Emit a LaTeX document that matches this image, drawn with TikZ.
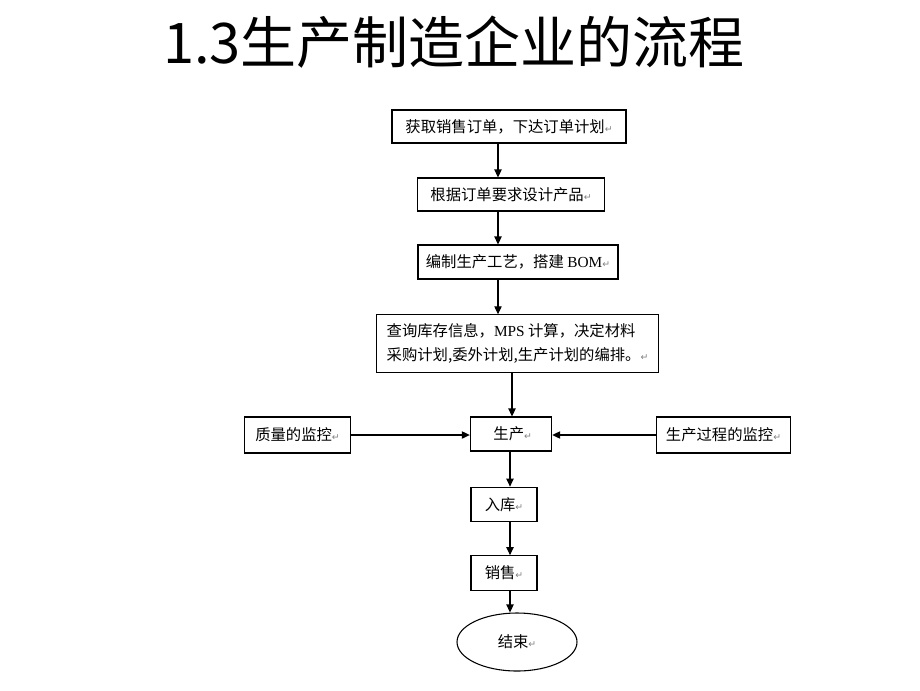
\documentclass[tikz,border=0pt]{standalone}
\usepackage{fontspec}
\setmainfont{Noto Sans CJK SC}
\newfontfamily\retfont{DejaVu Sans}
\newfontfamily\latinserif{Liberation Serif}
\usetikzlibrary{positioning, shapes.geometric, arrows.meta}
\newcommand{\ret}{{\retfont\fontsize{7}{7}\selectfont\color{gray}↵}}

\begin{document}
\begin{tikzpicture}[
    x=0.75pt, y=-0.75pt,
    box/.style={rectangle, draw, line width=0.8pt, inner sep=0pt, font=\fontsize{11.5}{17.5}\selectfont},
    arrow/.style={-{Triangle[length=6pt, width=5.5pt]}, line width=0.8pt},
    endbox/.style={ellipse, draw, line width=0.8pt, minimum width=90pt, minimum height=43.5pt, inner sep=0pt, font=\fontsize{11.5}{13}\selectfont}
]
\useasboundingbox (0,0) rectangle (920,690);

% Title
\node[font=\fontsize{42}{44}\selectfont] (title) at (454,42) {1.3生产制造企业的流程};

% Main flow, top to bottom
\node[box, minimum width=175.5pt, minimum height=24.75pt] (order) at (509,126.5) {获取销售订单，下达订单计划\ret};
\node[box, minimum width=140pt, minimum height=24.75pt] (design) at (511,194.5) {根据订单要求设计产品\ret};
\node[box, minimum width=150pt, minimum height=25.5pt] (bom) at (518,262) {编制生产工艺，搭建 {\latinserif BOM}\ret};
\node[box, minimum width=211pt, minimum height=43pt, align=left] (plan) at (517.5,343.5)
    {查询库存信息，{\latinserif MPS} 计算，决定材料\\采购计划,委外计划,生产计划的编排。\ret};
\node[box, minimum width=61pt, minimum height=25.5pt] (prod) at (511,434) {\ 生产\ret};
\node[box, minimum width=49.5pt, minimum height=26pt] (store) at (504,504.5) {入库\ret};
\node[box, minimum width=49.5pt, minimum height=26pt] (sales) at (504,573) {销售\ret};
\node[endbox] (finish) at (517,642) {结束\ret};

% Side boxes
\node[box, minimum width=80pt, minimum height=27pt] (quality) at (297.5,435) {质量的监控\ret};
\node[box, minimum width=100pt, minimum height=27pt] (process) at (723.5,435) {生产过程的监控\ret};

% Columns the arrows run along
\coordinate (colA) at (498,0);
\coordinate (colB) at (512,0);
\coordinate (colC) at (510,0);

% Draw arrows
\draw[arrow] (order.south -| colA) -- (design.north -| colA);
\draw[arrow] (design.south -| colA) -- (bom.north -| colA);
\draw[arrow] (bom.south -| colA) -- (plan.north -| colA);
\draw[arrow] (plan.south -| colB) -- (prod.north -| colB);
\draw[arrow] (prod.south -| colC) -- (store.north -| colC);
\draw[arrow] (store.south -| colC) -- (sales.north -| colC);
\draw[arrow] (sales.south -| colC) -- (finish.north -| colC);
\draw[arrow] (quality.east) -- (quality.east -| prod.west);
\draw[arrow] (process.west) -- (process.west -| prod.east);

\end{tikzpicture}
\end{document}
